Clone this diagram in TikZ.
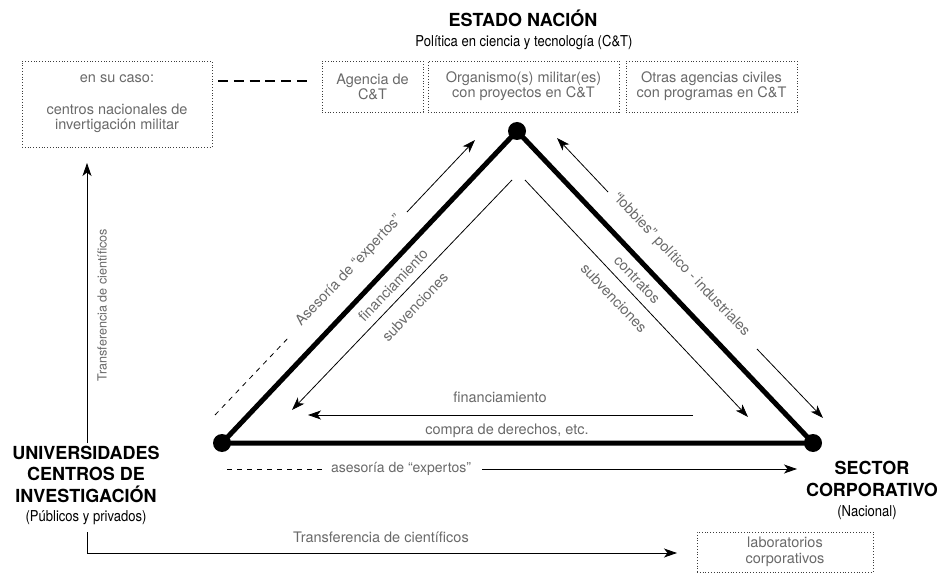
\documentclass[tikz,border=0pt]{standalone}
\usepackage{fontspec}
\setmainfont{TeX Gyre Heros}
\newfontfamily\condfont[FakeStretch=0.87]{TeX Gyre Heros}
\usetikzlibrary{arrows.meta}
\definecolor{lblgray}{RGB}{105,105,105}
\definecolor{boxgray}{RGB}{60,60,60}
\begin{document}
\begin{tikzpicture}[x=1pt,y=-1pt,
  lbl/.style={text=lblgray, font=\fontsize{14.5}{16}\selectfont, inner sep=0pt},
  boxtxt/.style={text=lblgray, font=\fontsize{14.5}{15}\selectfont, align=center, inner sep=0pt},
  dbox/.style={draw=boxgray, dotted, line width=0.8pt},
  side/.style={line width=5pt, line cap=round, line join=round},
  arr/.style={-{Stealth[length=13pt,width=9pt,inset=3.5pt]}, line width=0.8pt},
  thindash/.style={line width=0.8pt, dash pattern=on 5pt off 5pt},
  vtx/.style={circle, fill=black, minimum size=18pt, inner sep=0pt},
  title/.style={font=\fontsize{18}{21.5}\selectfont\bfseries, align=center, inner sep=0pt},
  subt/.style={font=\condfont\fontsize{15}{17}\selectfont, align=center, inner sep=0pt}
]
\useasboundingbox (0,0) rectangle (937,585);

% ---- titles ----
\node[title] (estado) at (523,18) {ESTADO NACIÓN};
\node[subt] (politica) at (524,43) {Política en ciencia y tecnología (C\&T)};
\node[title] (univ) at (86,474) {UNIVERSIDADES\\CENTROS DE\\INVESTIGACIÓN};
\node[subt] (univsub) at (86,518) {(Públicos y privados)};
\node[title] (sector) at (872,479) {SECTOR\\CORPORATIVO};
\node[subt] (sectorsub) at (867,513) {(Nacional)};

% ---- dotted boxes ----
\node[dbox, boxtxt, minimum width=190pt, minimum height=86pt] (caso) at (117,104)
  {en su caso:\\[17pt]centros nacionales de\\invertigación militar};
\node[dbox, boxtxt, minimum width=101pt, minimum height=51pt] (agencia) at (372.5,86.5)
  {Agencia de\\C\&T};
\node[dbox, boxtxt, minimum width=191pt, minimum height=51pt] (organismo) at (523.5,86.5)
  {Organismo(s) militar(es)\\con proyectos en C\&T};
\node[dbox, boxtxt, minimum width=171pt, minimum height=51pt] (otras) at (711.5,86.5)
  {Otras agencias civiles\\con programas en C\&T};
\node[dbox, boxtxt, font=\fontsize{14.5}{16.5}\selectfont, minimum width=176pt, minimum height=40pt] (lab) at (785,552)
  {laboratorios\\corporativos};

\coordinate (dl1) at (218,81);
\coordinate (dl2) at (307,81);
\draw[line width=1.5pt, dash pattern=on 10pt off 5.8pt] (dl1) -- (dl2);

% ---- triangle ----
\node[vtx] (E) at (517,131) {};
\node[vtx] (U) at (222,443) {};
\node[vtx] (S) at (813,443) {};
\draw[side] (U.center) -- (E.center) -- (S.center) -- cycle;

% ---- left side arrows ----
\coordinate (ds1) at (215,415);
\coordinate (de1) at (290,336);
\draw[thindash] (ds1) -- (de1);
\coordinate (as1) at (407,212);
\coordinate (ae1) at (475,140);
\draw[arr] (as1) -- (ae1);
\node[lbl, rotate=46.6] (asesA) at (349,271) {Asesoría de “expertos”};

\coordinate (fs1) at (512,180);
\coordinate (fe1) at (292,410);
\draw[arr] (fs1) -- (fe1);
\node[lbl, rotate=46.6] (finA) at (393,285) {financiamiento};
\node[lbl, rotate=46.6] (subA) at (415,307) {subvenciones};

% ---- right side arrows ----
\coordinate (ls1) at (608,192);
\coordinate (le1) at (557,138);
\draw[arr] (ls1) -- (le1);
\coordinate (ls2) at (757,349);
\coordinate (le2) at (823,418);
\draw[arr] (ls2) -- (le2);
\node[lbl, rotate=-46.5] (lob) at (681,265) {“lobbies” político - industriales};

\coordinate (cs1) at (525,180);
\coordinate (ce1) at (748,417);
\draw[arr] (cs1) -- (ce1);
\node[lbl, rotate=-46.5] (con) at (637,280) {contratos};
\node[lbl, rotate=-46.5] (subB) at (614,298) {subvenciones};

% ---- bottom arrows ----
\coordinate (bs1) at (693,415);
\coordinate (be1) at (308,415);
\draw[arr] (bs1) -- (be1);
\node[lbl] (finB) at (500,397) {financiamiento};
\node[lbl] (compra) at (507,431) {compra de derechos, etc.};

\coordinate (bd1) at (227,469);
\coordinate (bd2) at (323,469);
\draw[thindash] (bd1) -- (bd2);
\node[lbl, font=\fontsize{14}{16}\selectfont] (asesB) at (401,469) {asesoría de “expertos”};
\coordinate (bs2) at (482,469);
\coordinate (be2) at (797,469);
\draw[arr] (bs2) -- (be2);

% ---- transferencia de científicos ----
\coordinate (vs) at (87,443);
\coordinate (ve) at (87,163);
\draw[arr] (vs) -- (ve);
\node[lbl, rotate=90, font=\fontsize{12.6}{14}\selectfont] (transV) at (102,305) {Transferencia de científicos};

\coordinate (hs) at (87,532);
\coordinate (he) at (677,553);
\draw[arr] (hs) |- (he);
\node[lbl] (transH) at (381,537) {Transferencia de científicos};
\end{tikzpicture}
\end{document}
